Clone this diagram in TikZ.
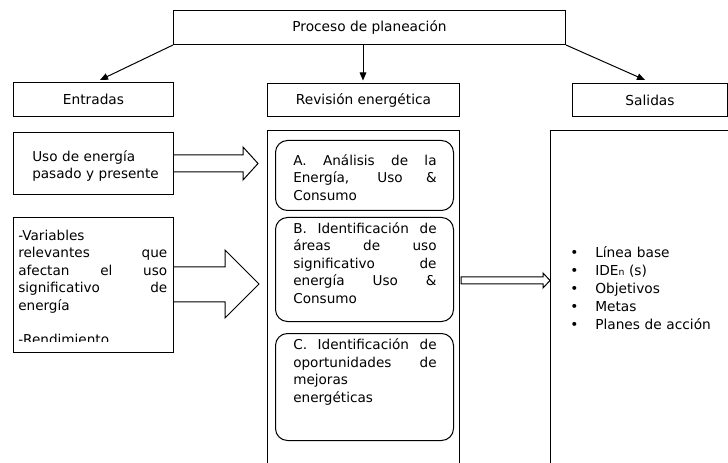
\documentclass[tikz,border=0pt]{standalone}
\usepackage{fontspec}
\setmainfont{DejaVu Sans}
\usetikzlibrary{arrows.meta}
\begin{document}
\begin{tikzpicture}[x=0.75pt,y=-0.75pt,
  lw/.style={line width=0.75pt},
  box/.style={draw, lw, inner sep=0pt, anchor=north west, font=\fontsize{10.3pt}{13pt}\selectfont},
  rbox/.style={box, rounded corners=9pt},
  para/.style={inner sep=0pt, anchor=base west, align=justify, font=\fontsize{10.2pt}{13.125pt}\selectfont},
  lpara/.style={para, align=left},
  link/.style={lw, -{Triangle[length=6pt,width=5pt]}},
  block/.style={lw, line join=miter}]
\clip (0,0) rectangle (728,463);
\fill[white] (0,0) rectangle (728,463);
\tolerance=10000 \hbadness=10000 \hfuzz=5pt
% header boxes
\node[box, minimum width=294pt, minimum height=25.5pt] (proc) at (173,10) {Proceso de planeación};
\node[box, minimum width=120pt, minimum height=25.5pt] (ent) at (13,82) {Entradas};
\node[box, minimum width=144pt, minimum height=24.75pt] (rev) at (267,83) {Revisión energética};
\node[box, minimum width=116.25pt, minimum height=24.75pt] (sal) at (572,83) {Salidas};
% arrows from process
\coordinate (entTip) at (100,80);
\coordinate (revTip) at (363,80.5);
\coordinate (salTip) at (645,80);
\draw[link] (proc.south west) -- (entTip);
\draw[link] (proc.south -| revTip) -- (revTip);
\draw[link] (proc.south east) -- (salTip);
% big boxes
\node[box, minimum width=144pt, minimum height=262.5pt] (revbig) at (267,130) {};
\node[box, minimum width=187.5pt, minimum height=262.5pt] (salbig) at (550,130) {};
% inner rounded boxes
\node[rbox, minimum width=133.5pt, minimum height=52.5pt] (A) at (275,140) {};
\node[rbox, minimum width=133.5pt, minimum height=78pt] (B) at (275,217) {};
\node[rbox, minimum width=133.5pt, minimum height=80.25pt] (C) at (275,333) {};
\node[para, text width=107.5pt] (Atext) at (293,165.5) {A. Análisis de la\linebreak Energía, Uso \&\linebreak Consumo};
\node[para, text width=107.5pt] (Btext) at (293,233.5) {B. Identificación de\linebreak áreas de uso\linebreak significativo de\linebreak energía Uso \&\linebreak Consumo};
\node[para, text width=107.5pt] (Ctext) at (293,349.5) {C. Identificación de\linebreak oportunidades de\linebreak mejoras\newline energéticas};
% input boxes
\node[box, minimum width=120pt, minimum height=46.5pt] (uso) at (13,132) {};
\node[lpara, text width=110pt] (usotext) at (32,161.5) {Uso de energía\\pasado y presente};
\node[box, minimum width=120pt, minimum height=101.25pt] (var) at (13,217) {};
\begin{scope}
\clip (var.north west) rectangle ([yshift=8.6pt]var.south east);
\node[para, text width=111.75pt] (vartext) at (18,240.5) {-Variables\newline relevantes que\linebreak afectan el uso\linebreak significativo de\linebreak energía\par\vspace{12.4pt}\noindent -Rendimiento};
\end{scope}
% block arrows
\draw[block] (uso.east |- 0,155) -- (243,155) -- (243,147) -- (258,163.5) -- (243,180) -- (243,172) -- (uso.east |- 0,172);
\draw[block] (var.east |- 0,267) -- (225,267) -- (225,250) -- (259,284) -- (225,318) -- (225,302) -- (var.east |- 0,302);
\draw[block] (461,277) -- (543,277) -- (543,273) -- (salbig.west |- 0,280.5) -- (543,288) -- (543,284) -- (461,284) -- cycle;
% outputs
\node[lpara, text width=150pt, font=\fontsize{10.3pt}{13.5pt}\selectfont] (outs) at (570,257.5) {%
\makebox[18.75pt][l]{\textbullet}Línea base\\
\makebox[18.75pt][l]{\textbullet}IDE{\fontsize{7pt}{7pt}\selectfont n} (s)\\
\makebox[18.75pt][l]{\textbullet}Objetivos\\
\makebox[18.75pt][l]{\textbullet}Metas\\
\makebox[18.75pt][l]{\textbullet}Planes de acción};
\end{tikzpicture}
\end{document}
